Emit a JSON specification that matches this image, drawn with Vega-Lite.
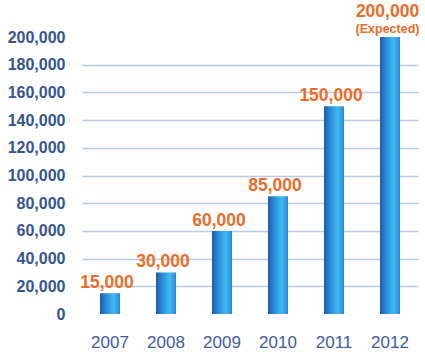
{
  "$schema": "https://vega.github.io/schema/vega-lite/v6.json",
  "autosize": "none",
  "width": 336,
  "height": 277,
  "padding": {"left": 82, "top": 37, "right": 7, "bottom": 44},
  "background": "white",
  "config": {"view": {"stroke": null}, "font": "Liberation Sans"},
  "data": {"values": [
    {"year": "2007", "value": 15000, "label": "15,000", "note": ""},
    {"year": "2008", "value": 30000, "label": "30,000", "note": ""},
    {"year": "2009", "value": 60000, "label": "60,000", "note": ""},
    {"year": "2010", "value": 85000, "label": "85,000", "note": ""},
    {"year": "2011", "value": 150000, "label": "150,000", "note": ""},
    {"year": "2012", "value": 200000, "label": "200,000", "note": "(Expected)"}
  ]},
  "encoding": {
    "x": {"field": "year", "type": "nominal", "title": null,
      "scale": {"paddingInner": 0, "paddingOuter": 0},
      "axis": {"labelAngle": 0, "domain": false, "ticks": false, "labelPadding": 28,
        "labelFont": "Liberation Sans", "labelFontSize": 17, "labelColor": "#3d5c9c", "labelBaseline": "middle", "grid": false}},
    "y": {"field": "value", "type": "quantitative", "title": null,
      "scale": {"domain": [0, 200000], "nice": false},
      "axis": {"values": [0, 20000, 40000, 60000, 80000, 100000, 120000, 140000, 160000, 180000, 200000],
        "format": ",d", "domain": false, "ticks": false, "labelPadding": 17,
        "labelFont": "Liberation Sans", "labelFontSize": 16, "labelFontWeight": "bold", "labelColor": "#34558f",
        "grid": true, "gridWidth": 1.5,
        "gridColor": {"condition": {"test": "datum.value == 0 || datum.value == 200000", "value": "transparent"}, "value": "#b7cae3"}}}
  },
  "layer": [
    {"mark": {"type": "bar", "size": 20,
      "color": {"gradient": "linear", "x1": 0, "x2": 1, "y1": 0, "y2": 0,
        "stops": [{"offset": 0, "color": "#1f5bad"}, {"offset": 0.35, "color": "#2f90dc"}, {"offset": 0.7, "color": "#3ebcf2"}, {"offset": 1, "color": "#2c86d6"}]}}},
    {"transform": [{"filter": "datum.note == ''"}],
      "mark": {"type": "text", "baseline": "middle", "dy": -10, "dx": -3, "font": "Liberation Sans", "fontSize": 17.5, "fontWeight": "bold", "color": "#ea6c28"},
      "encoding": {"text": {"field": "label"}}},
    {"transform": [{"filter": "datum.note != ''"}],
      "mark": {"type": "text", "baseline": "middle", "dy": -25, "dx": -2.5, "font": "Liberation Sans", "fontSize": 17.5, "fontWeight": "bold", "color": "#ea6c28"},
      "encoding": {"text": {"field": "label"}}},
    {"transform": [{"filter": "datum.note != ''"}],
      "mark": {"type": "text", "baseline": "middle", "dy": -8.5, "dx": -2.5, "font": "Liberation Sans", "fontSize": 12.5, "fontWeight": "bold", "color": "#ea6c28"},
      "encoding": {"text": {"field": "note"}}}
  ]
}
